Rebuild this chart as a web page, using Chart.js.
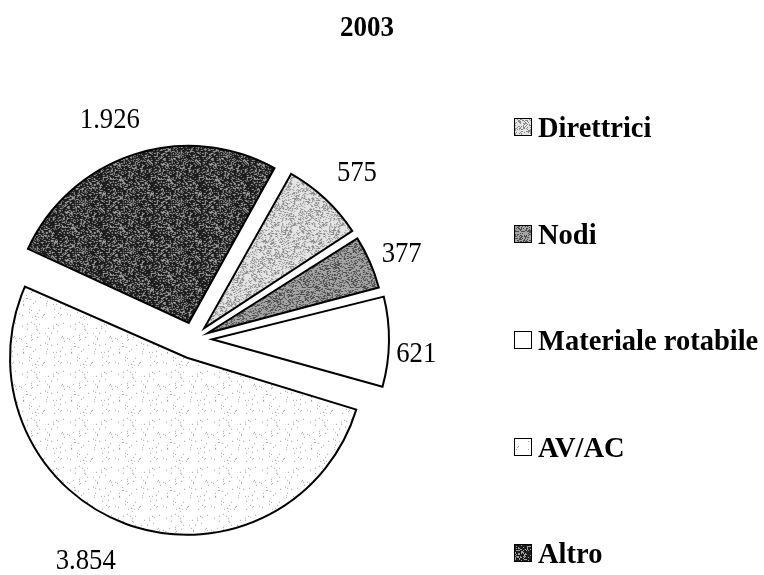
<!DOCTYPE html>
<html><head><meta charset="utf-8">
<script src="https://cdn.jsdelivr.net/npm/chart.js@4.4.1/dist/chart.umd.min.js"></script>
<style>
html,body{margin:0;padding:0;background:#fff;}
#wrap{position:relative;width:764px;height:575px;overflow:hidden;background:#fff;}
#c{position:absolute;left:0;top:0;}
.t{position:absolute;font-family:"Liberation Serif","Times New Roman",serif;color:#000;white-space:nowrap;font-size:30px;line-height:30px;}
.b{font-weight:bold;}
.box{position:absolute;width:18px;height:18px;box-sizing:border-box;border:1.5px solid #000;background-color:#fff;}
</style></head><body>
<div id="wrap"><canvas id="c" width="764" height="575"></canvas></div>
<script>
// ---- data ----
const title = '2003';
const categories = ['Direttrici', 'Nodi', 'Materiale rotabile', 'AV/AC', 'Altro'];
const values = [575, 377, 621, 3854, 1926];

// ---- style ----
const rotationDeg = 29;
const pieRadius = 177;
const sliceShift = [15, 15, 18, 20, 17];        // explode distance (px)
const labelGap = [21, 11, 7, 25, 22];           // label distance beyond arc
const labelShiftDeg = [1, 0.7, 2.5, 6.4, -2.9]; // small label angle nudges
const textScaleX = 0.89;

function fmt(v){ return String(v).replace(/\B(?=(\d{3})+(?!\d))/g, '.'); }

function tile(bg, fg, density, seed){
  const n = 48, c = document.createElement('canvas'); c.width = c.height = n;
  const g = c.getContext('2d'); g.fillStyle = bg; g.fillRect(0,0,n,n); g.fillStyle = fg;
  for (let y=0;y<n;y++) for (let x=0;x<n;x++){
    let h = Math.imul(x + seed*131, 374761393) ^ Math.imul(y + seed*17, 668265263);
    h = Math.imul(h ^ (h>>>13), 1274126177); h = (h ^ (h>>>16))>>>0;
    if (h/4294967296 < density) g.fillRect(x,y,1,1);
  }
  return c;
}
const tiles = [
  tile('#e4e4e4', '#8c8c8c', 0.30, 1),
  tile('#a4a4a4', '#4e4e4e', 0.38, 2),
  tile('#ffffff', '#ffffff', 0.0, 3),
  tile('#ffffff', '#a0a0a0', 0.03, 4),
  tile('#1c1c1c', '#9c9c9c', 0.33, 5)
];

const canvas = document.getElementById('c');
const ctx = canvas.getContext('2d');
const fills = tiles.map(t => ctx.createPattern(t, 'repeat'));

// keep exploded slices at the same radius
const radiusFix = {
  id: 'radiusFix',
  beforeDatasetsDraw(chart){
    const meta = chart.getDatasetMeta(0);
    const R = meta.controller.outerRadius;
    meta.data.forEach(arc => {
      const off = (arc.options.offset || 0) / 4;
      const fix = 1 - Math.sin(Math.min(Math.PI, arc.circumference || 0));
      arc.outerRadius = R - off * fix;
    });
  }
};

const valueLabels = {
  id: 'valueLabels',
  afterDatasetsDraw(chart){
    const meta = chart.getDatasetMeta(0);
    const R = meta.controller.outerRadius;
    const c = chart.ctx;
    const data = chart.data.datasets[0].data;
    c.save();
    c.font = '30px "Liberation Serif", "Times New Roman", serif';
    c.fillStyle = '#000';
    c.textAlign = 'center';
    c.textBaseline = 'alphabetic';
    meta.data.forEach((arc, i) => {
      const mid = (arc.startAngle + arc.endAngle) / 2;
      const t = (arc.options.offset || 0) / 4;
      const cx = arc.x + Math.cos(mid) * t, cy = arc.y + Math.sin(mid) * t;
      const a = mid + labelShiftDeg[i] * Math.PI / 180;
      const ux = Math.cos(a), uy = Math.sin(a);
      const txt = fmt(data[i]);
      const w = c.measureText(txt).width * textScaleX;
      const h = 21;
      const d = R + labelGap[i] + Math.abs(ux) * w / 2 + Math.abs(uy) * h / 2;
      const lx = cx + ux * d, ly = cy + uy * d;
      c.save();
      c.translate(lx, ly + h / 2);
      c.scale(textScaleX, 1);
      c.fillText(txt, 0, 0);
      c.restore();
    });
    c.restore();
  }
};

new Chart(ctx, {
  type: 'pie',
  data: {
    labels: categories,
    datasets: [{
      data: values,
      backgroundColor: fills,
      borderColor: '#000',
      borderWidth: 2,
      borderJoinStyle: 'miter',
      offset: sliceShift.map(s => s * 4)
    }]
  },
  options: {
    responsive: false,
    animation: false,
    events: [],
    rotation: rotationDeg,
    radius: pieRadius,
    layout: { padding: { left: 0, right: 376, top: 103, bottom: 0 } },
    plugins: { legend: { display: false }, tooltip: { enabled: false }, title: { display: false } }
  },
  plugins: [radiusFix, valueLabels]
});

// ---- title and legend (HTML text) ----
const wrap = document.getElementById('wrap');
const ascent = 25; // baseline offset inside a 30px line box
const tdiv = document.createElement('div');
tdiv.className = 't b'; tdiv.textContent = title;
tdiv.style.left = '367px'; tdiv.style.top = (36 - ascent) + 'px';
tdiv.style.transform = 'translateX(-50%) scaleX(0.9)';
wrap.appendChild(tdiv);

const legendBaseline0 = 137, legendStep = 106.5;
categories.forEach((name, i) => {
  const base = legendBaseline0 + legendStep * i;
  const box = document.createElement('div');
  box.className = 'box';
  box.style.left = '514px'; box.style.top = (base - 19) + 'px';
  box.style.backgroundImage = 'url(' + tiles[i].toDataURL() + ')';
  wrap.appendChild(box);
  const tx = document.createElement('div');
  tx.className = 't b'; tx.textContent = name;
  tx.style.left = '538px'; tx.style.top = (base - ascent) + 'px';
  tx.style.transformOrigin = 'left center';
  tx.style.transform = 'scaleX(0.95)';
  wrap.appendChild(tx);
});
</script>
</body></html>
